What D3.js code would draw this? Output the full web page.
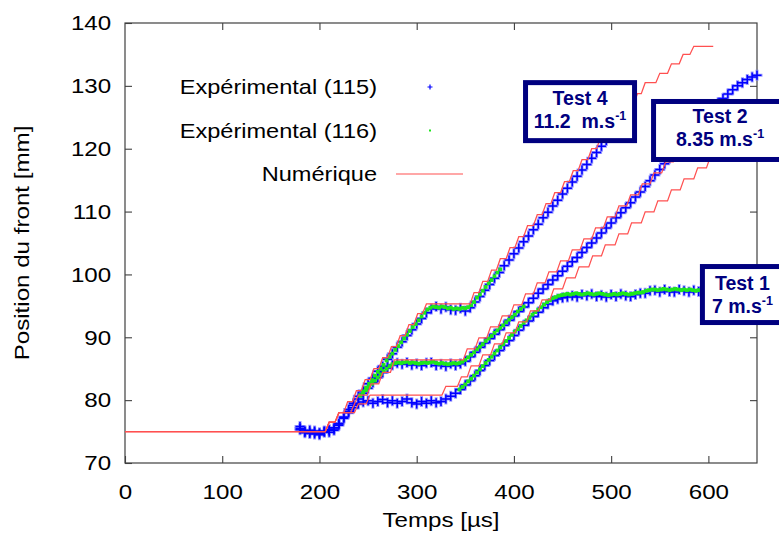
<!DOCTYPE html>
<html>
<head>
<meta charset="utf-8">
<script src="https://cdnjs.cloudflare.com/ajax/libs/d3/7.8.5/d3.min.js"></script>
<style>
	body { margin: 0; background: #fff; }
</style>
</head>
<body>
<script>
const width = 779
const height = 536
const margin = { top: 23, right: 22, bottom: 73, left: 125 }

const FONT = "'Liberation Sans', Arial, Helvetica, sans-serif"
const STRETCH = 1.15 // the original text is drawn a bit wider than Arial
const AXIS = '#404040'
const BLUE = '#0000ff'
const BLUE_HALO = '#7d7dff'
const GREEN = '#1ee61e'
const RED = '#ff5050'
const NAVY = '#00007f'

const xTicks = [0, 100, 200, 300, 400, 500, 600]
const yTicks = [70, 80, 90, 100, 110, 120, 130, 140]

// Expérimental (115), one value every 5 µs from 180 µs
const t0Blue = 180
const dtBlue = 5
const blueTest1 = [
	75.5, 75.0, 74.7, 75.1, 74.8, 74.9, 75.3, 75.2, 76.3, 77.2,
	78.0, 78.8, 79.4, 79.7, 79.9, 79.5, 79.8, 80.1, 79.6, 79.9,
	79.5, 79.8, 80.2, 79.6, 79.4, 79.8, 79.5, 79.9, 79.6, 79.8,
	80.2, 80.6, 81.1, 81.7, 82.4, 83.1, 83.9, 84.7, 85.5, 86.3,
	87.1, 87.9, 88.7, 89.5, 90.3, 91.1, 91.9, 92.6, 93.3, 94.0,
	94.7, 95.3, 95.8, 96.1, 96.3, 96.4, 96.6, 96.4, 96.8, 96.6,
	96.9, 96.5, 96.7, 96.4, 96.8, 96.5, 96.9, 96.6, 96.5, 96.8,
	97.0, 97.0, 97.4, 97.5, 97.2, 97.6, 97.3, 97.2, 97.6, 97.4,
	97.2, 97.5, 97.3, 97.4,
]
const blueTest2 = [
	75.3, 74.8, 75.2, 74.9, 74.5, 75.1, 74.9, 75.6, 76.0, 77.1,
	78.2, 79.2, 80.2, 81.1, 81.9, 82.8, 83.6, 84.4, 85.1, 85.6,
	85.9, 85.7, 86.0, 85.6, 85.8, 85.5, 85.9, 86.0, 85.5, 85.7,
	85.4, 85.8, 85.5, 85.8, 86.2, 86.9, 87.6, 88.4, 89.1, 89.8,
	90.5, 91.2, 91.9, 92.7, 93.4, 94.1, 94.8, 95.5, 96.2, 97.0,
	97.7, 98.4, 99.1, 99.8, 100.5, 101.3, 102.0, 102.7, 103.5, 104.3,
	105.0, 105.8, 106.6, 107.4, 108.2, 109.0, 109.8, 110.6, 111.4, 112.3,
	113.1, 114.0, 114.9, 115.8, 116.7, 117.6, 118.5, 119.4, 120.3, 121.2,
	122.1, 123.0, 123.9, 124.8, 125.7, 126.5, 127.3, 128.0, 128.7, 129.4,
	130.0, 130.5, 131.0, 131.4, 131.7,
]
const blueTest4 = [
	75.8, 75.1, 74.9, 74.6, 74.7, 75.0, 75.2, 75.4, 76.2, 77.3,
	78.5, 79.5, 80.6, 81.5, 82.6, 83.5, 84.6, 85.4, 86.5, 87.4,
	88.4, 89.3, 90.3, 91.2, 92.1, 93.0, 93.9, 94.5, 94.9, 94.5,
	94.8, 94.4, 94.3, 94.6, 94.2, 94.7, 95.6, 96.5, 97.5, 98.4,
	99.4, 100.3, 101.4, 102.3, 103.3, 104.2, 105.2, 106.1, 107.1, 108.0,
	109.0, 109.9, 110.9, 111.8, 112.8, 113.7, 114.7, 115.6, 116.6, 117.5,
	118.5, 119.4, 120.4, 121.3, 122.3,
]

// Expérimental (116), one value every 3 µs
const dtGreen = 3
const t0GreenTest1 = 344
const greenTest1 = [
	81.7, 82.1, 82.5, 83.0, 83.4, 83.9, 84.4, 84.9, 85.4, 85.9,
	86.4, 86.9, 87.4, 87.9, 88.4, 88.9, 89.4, 89.9, 90.4, 90.9,
	91.3, 91.8, 92.3, 92.7, 93.1, 93.6, 94.0, 94.4, 94.8, 95.2,
	95.6, 95.9, 96.2, 96.4, 96.6, 96.7, 96.8, 96.9, 96.8, 96.9,
	97.0, 96.9, 96.8, 96.9, 97.0, 96.9, 96.8, 96.9, 97.0, 96.9,
	96.8, 96.7, 96.8, 96.9, 96.8, 96.9, 97.0, 96.9, 96.8, 96.9,
	97.0, 97.1, 97.1, 97.2, 97.4, 97.5, 97.6, 97.6, 97.5, 97.6,
	97.7, 97.6, 97.5, 97.6, 97.7, 97.6, 97.5, 97.6, 97.5, 97.6,
	97.5, 97.4, 97.5,
]
const t0GreenTest2 = 242
const greenTest2 = [
	80.7, 81.2, 81.6, 82.1, 82.6, 83.1, 83.6, 84.1, 84.6, 85.0,
	85.4, 85.7, 85.9, 86.0, 85.9, 86.0, 86.1, 85.9, 86.0, 85.9,
	85.8, 85.9, 86.0, 85.9, 86.0, 86.1, 85.9, 85.8, 85.9, 85.8,
	85.7, 85.8, 85.9, 85.8, 85.9, 86.1, 86.4, 86.8, 87.2, 87.6,
	88.1, 88.5, 88.9, 89.4, 89.8, 90.2, 90.7, 91.1, 91.5, 91.9,
	92.4, 92.8, 93.2, 93.6, 94.1, 94.5, 94.9,
]
const t0GreenTest4 = 242
const greenTest4 = [
	80.8, 81.4, 82.0, 82.6, 83.2, 83.9, 84.5, 85.0, 85.6, 86.3,
	86.9, 87.4, 88.0, 88.6, 89.2, 89.8, 90.4, 91.0, 91.6, 92.1,
	92.7, 93.3, 93.9, 94.4, 94.7, 94.9, 94.8, 94.7, 94.9, 94.8,
	94.6, 94.7, 94.5, 94.6, 94.5, 94.7, 94.6, 94.8, 95.1, 95.6,
	96.3, 96.8, 97.4, 98.0, 98.6, 99.1, 99.7, 100.3, 100.8,
]

// Numérique: corners of the staircase curves [time µs, position mm]
const numTest1 = [
	[0, 75], [206, 75], [210, 76.5], [216, 76.5], [220, 78.0], [236, 78.0],
	[240, 79.4], [248, 79.4], [252, 80.8], [326, 80.8], [330, 82.2], [342, 82.2],
	[346, 83.7], [352, 83.7], [356, 85.45], [364, 85.45], [368, 87.2], [376, 87.2],
	[380, 88.95], [388, 88.95], [392, 90.7], [401, 90.7], [405, 92.45], [413, 92.45],
	[417, 94.2], [425, 94.2], [429, 95.95], [437, 95.95], [441, 97.7], [450, 97.7],
	[454, 99.45], [463, 99.45], [467, 101.2], [477, 101.2], [481, 102.95], [490, 102.95],
	[494, 104.7], [504, 104.7], [508, 106.45], [517, 106.45], [521, 108.2], [531, 108.2],
	[535, 109.95], [544, 109.95], [548, 111.7], [558, 111.7], [562, 113.45], [571, 113.45],
	[575, 115.2], [585, 115.2], [589, 116.95], [598, 116.95], [602, 118.7], [605, 118.7],
]
const numTest2 = [
	[0, 75], [206, 75], [210, 76.5], [216, 76.5], [220, 78.0], [232, 78.0],
	[236, 79.4], [240, 80.8], [249, 80.8], [253, 82.6], [261, 82.6], [265, 84.4],
	[273, 84.4], [277, 86.4], [348, 86.4], [352, 88.15], [360, 88.15], [364, 89.9],
	[372, 89.9], [376, 91.65], [384, 91.65], [388, 93.4], [396, 93.4], [400, 95.15],
	[408, 95.15], [412, 96.9], [420, 96.9], [424, 98.65], [432, 98.65], [436, 100.4],
	[444, 100.4], [448, 102.15], [456, 102.15], [460, 103.9], [468, 103.9], [472, 105.65],
	[480, 105.65], [484, 107.4], [492, 107.4], [496, 109.15], [504, 109.15], [508, 110.9],
	[516, 110.9], [520, 112.65], [528, 112.65], [532, 114.4], [540, 114.4], [544, 116.15],
	[552, 116.15], [556, 117.9], [564, 117.9], [568, 119.65], [576, 119.65], [580, 121.4],
	[588, 121.4], [592, 123.15], [600, 123.15], [604, 124.9], [605, 124.9],
]
const numTest4 = [
	[0, 75], [206, 75], [210, 76.5], [216, 76.5], [220, 78.0], [225, 78.0],
	[229, 79.75], [234, 79.75], [238, 81.5], [243, 81.5], [247, 83.25], [252, 83.25],
	[256, 85.0], [261, 85.0], [265, 86.75], [270, 86.75], [274, 88.5], [279, 88.5],
	[283, 90.25], [288, 90.25], [292, 92.0], [297, 92.0], [301, 93.75], [306, 93.75],
	[310, 95.3], [355, 95.3], [359, 97.1], [364, 97.1], [368, 98.9], [373, 98.9],
	[377, 100.7], [382, 100.7], [386, 102.5], [392, 102.5], [396, 104.25], [401, 104.25],
	[405, 106.0], [410, 106.0], [414, 107.75], [420, 107.75], [424, 109.5], [429, 109.5],
	[433, 111.25], [438, 111.25], [442, 113.0], [448, 113.0], [452, 114.75], [457, 114.75],
	[461, 116.5], [466, 116.5], [470, 118.25], [476, 118.25], [480, 120.0], [485, 120.0],
	[489, 121.75], [494, 121.75], [498, 123.5], [504, 123.5], [508, 125.25], [513, 125.25],
	[517, 127.0], [523, 127.0], [527, 128.75], [531, 128.75], [535, 130.5], [546, 130.5],
	[550, 132.0], [558, 132.0], [562, 133.5], [570, 133.5], [574, 135.0], [581, 135.0],
	[585, 136.3], [605, 136.3],
]

// boxed labels, centred on [time, position]
const testLabels = [
	{ name: 'Test 4', speed: '11.2\u00a0 m.s', t: 468, v: 125.9, w: 109, h: 58 },
	{ name: 'Test 2', speed: '8.35 m.s', t: 612, v: 122.9, w: 133, h: 58 },
	{ name: 'Test 1', speed: '7 m.s', t: 635, v: 96.8, w: 80, h: 56, shift: 2 },
]

const legendItems = [
	{ label: 'Expérimental (115)', kind: 'cross' },
	{ label: 'Expérimental (116)', kind: 'dot' },
	{ label: 'Numérique', kind: 'line' },
]

function series(values, t0, dt) {
	return values.map((v, i) => [t0 + i * dt, v])
}

let svg = d3.select('body').append('svg')
	.attr('width', width)
	.attr('height', height)
	.style('background', '#fff')

let x = d3.scaleLinear()
	.domain([0, 650])
	.range([margin.left, width - margin.right])

let y = d3.scaleLinear()
	.domain([70, 140])
	.range([height - margin.bottom, margin.top])

/**
 * Axes, ticks pointing inward on all four sides
 */
function styleAxis(g, withText) {
	g.select('.domain').remove()
	g.selectAll('line').attr('stroke', AXIS).attr('stroke-width', 1.1)
	if (withText) {
		g.selectAll('text')
			.attr('font-family', FONT)
			.attr('font-size', 21)
			.attr('fill', '#000')
			.attr('transform', `scale(${STRETCH},1)`)
	}
}

svg.append('g')
	.attr('transform', `translate(0,${y(70)})`)
	.call(d3.axisBottom(x).tickValues(xTicks).tickSizeInner(-7).tickSizeOuter(0).tickPadding(21))
	.call(g => styleAxis(g, true))

svg.append('g')
	.attr('transform', `translate(0,${y(140)})`)
	.call(d3.axisTop(x).tickValues(xTicks.slice(1)).tickSizeInner(-7).tickSizeOuter(0).tickFormat(''))
	.call(g => styleAxis(g, false))

svg.append('g')
	.attr('transform', `translate(${x(0)},0)`)
	.call(d3.axisLeft(y).tickValues(yTicks).tickSizeInner(-7).tickSizeOuter(0).tickPadding(12))
	.call(g => styleAxis(g, true))

svg.append('g')
	.attr('transform', `translate(${x(650)},0)`)
	.call(d3.axisRight(y).tickValues(yTicks.slice(1, -1)).tickSizeInner(-7).tickSizeOuter(0).tickFormat(''))
	.call(g => styleAxis(g, false))

svg.append('rect')
	.attr('x', x(0))
	.attr('y', y(140))
	.attr('width', x(650) - x(0))
	.attr('height', y(70) - y(140))
	.attr('fill', 'none')
	.attr('stroke', AXIS)
	.attr('stroke-width', 1.2)

svg.append('text')
	.attr('transform', `translate(${(x(0) + x(650)) / 2},527) scale(${STRETCH},1)`)
	.attr('text-anchor', 'middle')
	.attr('font-family', FONT)
	.attr('font-size', 21)
	.text('Temps [µs]')

svg.append('text')
	.attr('transform', `translate(29,${(y(70) + y(140)) / 2}) rotate(-90) scale(${STRETCH},1)`)
	.attr('text-anchor', 'middle')
	.attr('font-family', FONT)
	.attr('font-size', 21)
	.text('Position du front [mm]')

/**
 * Data
 */
const crossPath = s => `M${-s},0H${s}M0,${-s}V${s}`

let bluePoints = [].concat(
	series(blueTest1, t0Blue, dtBlue),
	series(blueTest2, t0Blue, dtBlue),
	series(blueTest4, t0Blue, dtBlue)
)

// soft halo first, so the crosses read as a thick band like the original
svg.append('g').selectAll('path')
	.data(bluePoints)
	.enter()
		.append('path')
		.attr('d', crossPath(5.5))
		.attr('transform', d => `translate(${x(d[0])},${y(d[1])})`)
		.attr('stroke', BLUE_HALO)
		.attr('stroke-width', 3)
		.attr('stroke-opacity', 0.75)

svg.append('g').selectAll('path')
	.data(bluePoints)
	.enter()
		.append('path')
		.attr('d', crossPath(4.5))
		.attr('transform', d => `translate(${x(d[0])},${y(d[1])})`)
		.attr('stroke', BLUE)
		.attr('stroke-width', 1.5)

let greenPoints = [].concat(
	series(greenTest1, t0GreenTest1, dtGreen),
	series(greenTest2, t0GreenTest2, dtGreen),
	series(greenTest4, t0GreenTest4, dtGreen)
)
svg.append('g').selectAll('rect')
	.data(greenPoints)
	.enter()
		.append('rect')
		.attr('x', d => x(d[0]) - 1.9)
		.attr('y', d => y(d[1]) - 1.9)
		.attr('width', 3.8)
		.attr('height', 3.8)
		.attr('fill', GREEN)

let line = d3.line()
	.x(d => x(d[0]))
	.y(d => y(d[1]))

svg.append('g').selectAll('path')
	.data([numTest1, numTest2, numTest4])
	.enter()
		.append('path')
		.attr('d', line)
		.attr('fill', 'none')
		.attr('stroke', RED)
		.attr('stroke-width', 1.25)

/**
 * Legend
 */
let legend = svg.append('g')
legendItems.forEach((item, i) => {
	let cy = 87 + i * 43.5
	legend.append('text')
		.attr('transform', `translate(377,${cy + 7}) scale(${STRETCH},1)`)
		.attr('text-anchor', 'end')
		.attr('font-family', FONT)
		.attr('font-size', 20.5)
		.text(item.label)

	if (item.kind === 'cross') {
		legend.append('path')
			.attr('d', crossPath(2.5))
			.attr('transform', `translate(430,${cy})`)
			.attr('stroke', BLUE)
			.attr('stroke-width', 1.2)
	} else if (item.kind === 'dot') {
		legend.append('rect')
			.attr('x', 429).attr('y', cy - 1)
			.attr('width', 2).attr('height', 2)
			.attr('fill', GREEN)
	} else {
		legend.append('line')
			.attr('x1', 396).attr('x2', 463)
			.attr('y1', cy).attr('y2', cy)
			.attr('stroke', RED)
			.attr('stroke-width', 1.2)
	}
})

/**
 * Test boxes
 */
testLabels.forEach(lab => {
	let cx = x(lab.t)
	let cy = y(lab.v)
	let g = svg.append('g')

	g.append('rect')
		.attr('x', cx - lab.w / 2)
		.attr('y', cy - lab.h / 2)
		.attr('width', lab.w)
		.attr('height', lab.h)
		.attr('fill', '#fff')
		.attr('stroke', NAVY)
		.attr('stroke-width', 5)

	let shift = lab.shift || 0

	g.append('text')
		.attr('x', cx)
		.attr('y', cy - 7 + shift)
		.attr('text-anchor', 'middle')
		.attr('font-family', FONT)
		.attr('font-weight', 'bold')
		.attr('font-size', 19.5)
		.attr('fill', NAVY)
		.text(lab.name)

	let speed = g.append('text')
		.attr('x', cx)
		.attr('y', cy + 16 + shift)
		.attr('text-anchor', 'middle')
		.attr('font-family', FONT)
		.attr('font-weight', 'bold')
		.attr('font-size', 19.5)
		.attr('fill', NAVY)
	speed.append('tspan').text(lab.speed)
	speed.append('tspan')
		.attr('dy', -8)
		.attr('font-size', 12.5)
		.text('-1')
})
</script>
</body>
</html>
